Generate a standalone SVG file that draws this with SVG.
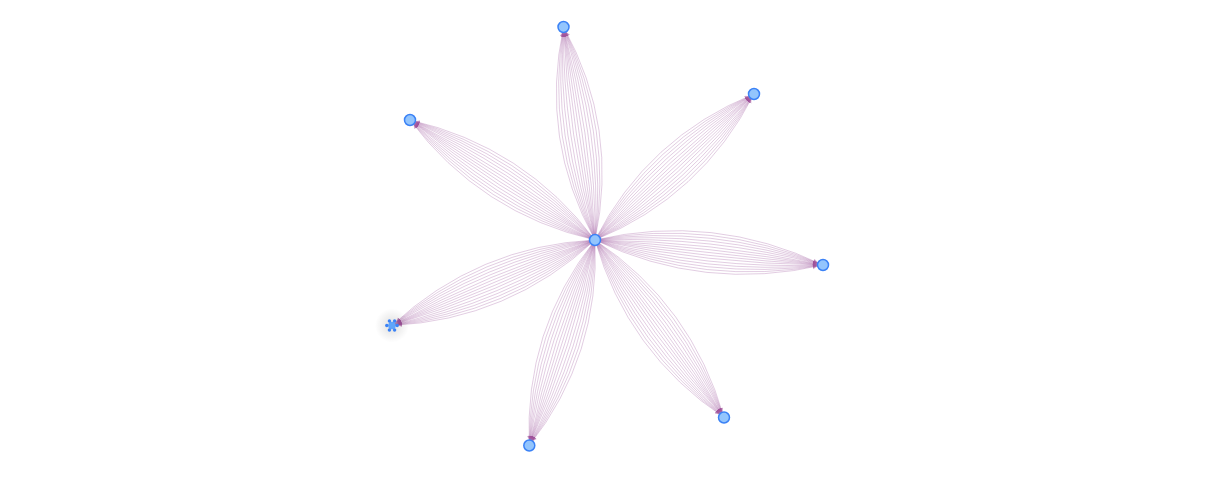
<svg xmlns="http://www.w3.org/2000/svg" xmlns:xlink="http://www.w3.org/1999/xlink" width="1216" height="477" viewBox="0 0 1216 477">
<style>
.e{fill:none;stroke:#9f5a9f;stroke-opacity:0.3;stroke-width:1;vector-effect:non-scaling-stroke;marker-end:url(#arr)}
.n{fill:#93c5fd;stroke:#3b82f6;stroke-width:1.5}
</style>
<defs>
<marker id="arr" markerUnits="userSpaceOnUse" markerWidth="20" markerHeight="10" refX="10" refY="2" orient="auto">
<path d="M0,0 L4.5,2 L0,4 z" fill="#9a4a94" fill-opacity="0.3"/>
</marker>
<radialGradient id="glow">
<stop offset="0" stop-color="#000" stop-opacity="0.13"/>
<stop offset="1" stop-color="#000" stop-opacity="0"/>
</radialGradient>
<g id="petal">
<path class="e" d="M0,0 Q110,-40 220,0"/>
<path class="e" d="M0,0 Q110,-34.3 220,0"/>
<path class="e" d="M0,0 Q110,-28.6 220,0"/>
<path class="e" d="M0,0 Q110,-22.9 220,0"/>
<path class="e" d="M0,0 Q110,-17.1 220,0"/>
<path class="e" d="M0,0 Q110,-11.4 220,0"/>
<path class="e" d="M0,0 Q110,-5.7 220,0"/>
<path class="e" d="M0,0 Q110,0 220,0"/>
<path class="e" d="M0,0 Q110,5.7 220,0"/>
<path class="e" d="M0,0 Q110,11.4 220,0"/>
<path class="e" d="M0,0 Q110,17.1 220,0"/>
<path class="e" d="M0,0 Q110,22.9 220,0"/>
<path class="e" d="M0,0 Q110,28.6 220,0"/>
<path class="e" d="M0,0 Q110,34.3 220,0"/>
<path class="e" d="M0,0 Q110,40 220,0"/>
</g>
</defs>
<rect width="1216" height="477" fill="#fff"/>
<g id="connectors">
<use xlink:href="#petal" href="#petal" transform="translate(595,240) rotate(-98.41) scale(0.9786,1)"/>
<use xlink:href="#petal" href="#petal" transform="translate(595,240) rotate(-42.56) scale(0.9814,1)"/>
<use xlink:href="#petal" href="#petal" transform="translate(595,240) rotate(6.26) scale(1.0427,1)"/>
<use xlink:href="#petal" href="#petal" transform="translate(595,240) rotate(53.99) scale(0.9973,1)"/>
<use xlink:href="#petal" href="#petal" transform="translate(595,240) rotate(107.73) scale(0.9805,1)"/>
<use xlink:href="#petal" href="#petal" transform="translate(595,240) rotate(157.16) scale(1.0014,1)"/>
<use xlink:href="#petal" href="#petal" transform="translate(595,240) rotate(-147.03) scale(1.0023,1)"/>
</g>
<g id="node-center"><circle class="n" cx="595" cy="240" r="5.5"/></g>
<g id="node-1"><circle class="n" cx="563.5" cy="27" r="5.5"/></g>
<g id="node-2"><circle class="n" cx="754" cy="94" r="5.5"/></g>
<g id="node-3"><circle class="n" cx="823" cy="265" r="5.5"/></g>
<g id="node-4"><circle class="n" cx="724" cy="417.5" r="5.5"/></g>
<g id="node-5"><circle class="n" cx="529.3" cy="445.5" r="5.5"/></g>
<g id="node-6">
<circle cx="392" cy="325.5" r="17" fill="url(#glow)"/>
<circle cx="392" cy="325.5" r="3.8" fill="#60a5fa"/>
<g fill="#3b82f6">
<circle cx="397.2" cy="325.5" r="1.7"/>
<circle cx="394.6" cy="330" r="1.7"/>
<circle cx="389.4" cy="330" r="1.7"/>
<circle cx="386.8" cy="325.5" r="1.7"/>
<circle cx="389.4" cy="321" r="1.7"/>
<circle cx="394.6" cy="321" r="1.7"/>
</g>
</g>
<g id="node-7"><circle class="n" cx="410" cy="120" r="5.5"/></g>
</svg>
